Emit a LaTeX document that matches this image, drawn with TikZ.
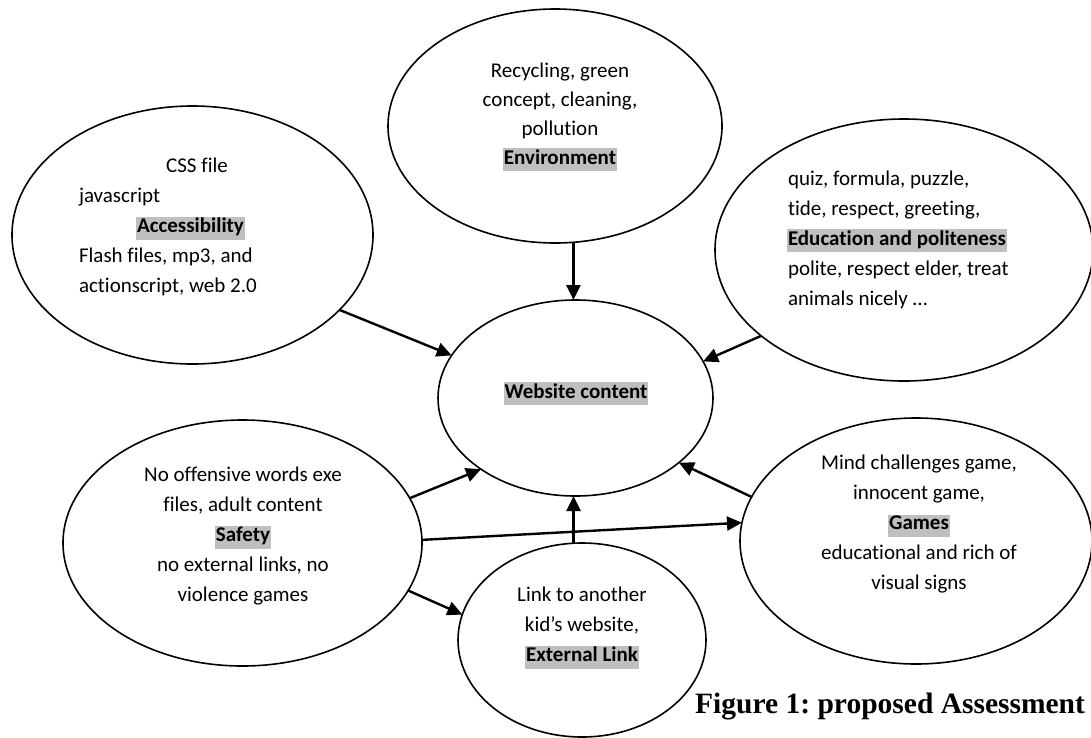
\documentclass[tikz,border=0pt]{standalone}
\usepackage{fontspec}
\setmainfont{Carlito}[Ligatures={NoCommon}]
\newfontfamily\capfont{Liberation Serif}
\usetikzlibrary{arrows.meta,shapes.geometric}
\definecolor{hlgray}{HTML}{BFBFBF}
\newcommand\hlbox[1]{{\setlength{\fboxsep}{1pt}\colorbox{hlgray}{\rule[-6pt]{0pt}{20pt}\textbf{#1}}}}
\frenchspacing
\begin{document}
\begin{tikzpicture}[x=1pt,y=-1pt,
  bubble/.style={draw,ellipse,line width=1.6pt,inner sep=0pt,outer sep=0pt},
  txt/.style={inner sep=0pt,outer sep=0pt,anchor=base,font=\fontsize{21}{30}\selectfont},
  txtl/.style={txt,anchor=base west},
  arr/.style={line width=2.4pt,-{Triangle[length=15pt,width=14pt]}}]
\useasboundingbox (0,0) rectangle (1091,737);

% ellipses
\node[bubble,minimum width=361pt,minimum height=258pt] (acc) at (192.5,235) {};
\node[bubble,minimum width=334pt,minimum height=234pt] (env) at (555,126) {};
\node[bubble,minimum width=378pt,minimum height=262pt] (edu) at (904,250) {};
\node[bubble,minimum width=275pt,minimum height=196pt] (web) at (575.5,398) {};
\node[bubble,minimum width=359pt,minimum height=246pt] (saf) at (242.5,543) {};
\node[bubble,minimum width=352pt,minimum height=246pt] (gam) at (916,541) {};
\node[bubble,minimum width=248pt,minimum height=194pt] (ext) at (582,640) {};

% Accessibility text
\node[txt]  (a1) at (197,172.5) {CSS file};
\node[txtl] (a2) at (79,202.5) {javascript};
\node[txt]  (a3) at (190.5,232.5) {\hlbox{Accessibility}};
\node[txtl] (a4) at (79,262.5) {Flash files, mp3, and};
\node[txtl] (a5) at (79,292.5) {actionscript, web 2.0};

% Environment text
\node[txt] (e1) at (560,77) {Recycling, green};
\node[txt] (e2) at (560,106) {concept, cleaning,};
\node[txt] (e3) at (560,135) {pollution};
\node[txt] (e4) at (560,164) {\hlbox{Environment}};

% Education text
\node[txtl] (d1) at (788,185) {quiz, formula, puzzle,};
\node[txtl] (d2) at (788,215) {tide, respect, greeting,};
\node[txtl] (d3) at (787,245) {\hlbox{Education and politeness}};
\node[txtl] (d4) at (788,275) {polite, respect elder, treat};
\node[txtl] (d5) at (788,305) {animals nicely …};

% Website content
\node[txt] (w1) at (576,398) {\hlbox{Website content}};

% Safety text
\node[txt] (s1) at (243,481.5) {No offensive words exe};
\node[txt] (s2) at (243,511.5) {files, adult content};
\node[txt] (s3) at (243,541.5) {\hlbox{Safety}};
\node[txt] (s4) at (243,571.5) {no external links, no};
\node[txt] (s5) at (243,601.5) {violence games};

% Games text
\node[txt] (g1) at (919,469.5) {Mind challenges game,};
\node[txt] (g2) at (919,499.5) {innocent game,};
\node[txt] (g3) at (919,529.5) {\hlbox{Games}};
\node[txt] (g4) at (919,559.5) {educational and rich of};
\node[txt] (g5) at (919,589.5) {visual signs};

% External link text
\node[txt] (x1) at (582,601.5) {Link to another};
\node[txt] (x2) at (582,631.5) {kid’s website,};
\node[txt] (x3) at (582,661.5) {\hlbox{External Link}};

% caption
\node[inner sep=0pt,anchor=base west,font=\capfont\bfseries\fontsize{29.5}{34}\selectfont] (cap) at (695,713) {Figure 1: proposed Assessment};

% connectors
\draw[arr] (env.-81) -- (env.-81 |- web.north);
\draw[arr] (acc.-27.4) -- (web.161.8);
\draw[arr] (edu.-149.7) -- (web.16.9);
\draw[arr] (gam.165.5) -- (web.-32.2);
\draw[arr] (saf.15.6) -- (web.-143.8);
\draw[arr] (ext.95) -- (ext.95 |- web.south);
\draw[arr] (saf.1.9) -- (gam.174.8);
\draw[arr] (saf.-16.2) -- (ext.168.4);
\end{tikzpicture}
\end{document}
